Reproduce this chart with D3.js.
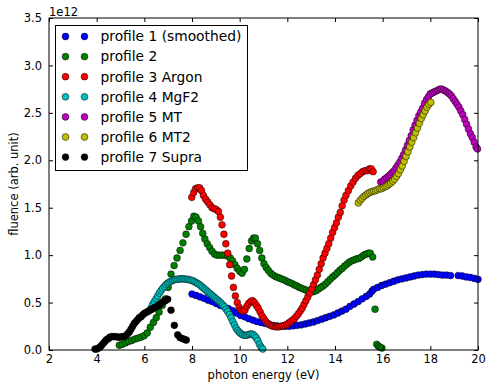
<!DOCTYPE html>
<html>
<head>
    <meta charset="utf-8">
    <title>Fluence per photon energy</title>
    <style>
        body { margin: 0; background: #fff; }
        text { font-family: 'DejaVu Sans', sans-serif; fill: #000; }
        .tick text { font-size: 11.5px; }
        .legend text { font-size: 13.8px; }
    </style>
</head>
<body>
<div id="chart"></div>
<script src="https://cdn.jsdelivr.net/npm/d3@7"></script>
<script>
    (function(d3) {
        'use strict';
        // [photon energy (eV), fluence (1e12 arb. unit)]
        var profile1 = [
            [8.00,.59],[8.17,.575],[8.34,.56],[8.51,.545],[8.68,.525],[8.85,.51],[9.02,.49],[9.19,.47],
            [9.36,.455],[9.53,.435],[9.70,.415],[9.87,.39],[10.04,.365],[10.21,.35],[10.38,.33],[10.55,.315],
            [10.72,.30],[10.89,.29],[11.06,.28],[11.23,.27],[11.40,.26],[11.57,.255],[11.74,.25],[11.91,.25],
            [12.08,.25],[12.25,.255],[12.42,.26],[12.59,.265],[12.76,.275],[12.93,.285],[13.10,.295],[13.27,.31],
            [13.44,.325],[13.61,.34],[13.78,.355],[13.95,.37],[14.12,.39],[14.29,.41],[14.46,.43],[14.63,.46],
            [14.80,.485],[14.97,.51],[15.14,.54],[15.31,.565],[15.45,.59],[15.55,.62],[15.62,.64],[15.79,.66],
            [15.96,.68],[16.13,.695],[16.30,.71],[16.47,.725],[16.64,.74],[16.81,.75],[16.98,.76],[17.15,.77],
            [17.32,.78],[17.49,.79],[17.66,.795],[17.83,.80],[18.00,.80],[18.17,.80],[18.34,.795],[18.51,.79],
            [18.68,.79],[18.85,.785],[19.17,.785],[19.34,.78],[19.51,.77],[19.68,.765],[19.85,.755],[20.00,.745]
        ];
        var profile2 = [
            [4.95,.05],[5.08,.06],[5.21,.075],[5.34,.09],[5.47,.10],[5.60,.115],[5.73,.125],[5.86,.135],
            [5.99,.15],[6.12,.18],[6.25,.24],[6.38,.29],[6.50,.34],[6.62,.40],[6.75,.47],[6.88,.54],
            [7.00,.66],[7.12,.80],[7.25,.89],[7.37,.97],[7.50,1.05],[7.62,1.13],[7.75,1.22],[7.87,1.30],
            [7.98,1.36],[8.08,1.41],[8.17,1.40],[8.27,1.36],[8.36,1.30],[8.45,1.23],[8.54,1.17],[8.64,1.12],
            [8.74,1.08],[8.84,1.04],[8.95,1.01],[9.06,1.00],[9.17,1.00],[9.28,1.00],[9.39,1.00],[9.50,.99],
            [9.60,.97],[9.70,.94],[9.80,.90],[9.90,.86],[10.00,.83],[10.10,.81],[10.20,.85],[10.30,.96],
            [10.40,1.07],[10.50,1.15],[10.58,1.18],[10.66,1.18],[10.75,1.12],[10.84,1.05],[10.93,.97],[11.02,.91],
            [11.11,.87],[11.20,.84],[11.30,.81],[11.40,.79],[11.50,.775],[11.60,.765],[11.70,.755],[11.80,.745],
            [11.90,.735],[12.00,.72],[12.10,.71],[12.20,.70],[12.30,.685],[12.40,.675],[12.50,.66],[12.60,.65],
            [12.70,.64],[12.80,.63],[12.90,.62],[13.00,.615],[13.10,.615],[13.20,.625],[13.30,.64],[13.40,.66],
            [13.50,.675],[13.60,.695],[13.70,.72],[13.80,.745],[13.90,.77],[14.00,.79],[14.10,.815],[14.20,.84],
            [14.30,.86],[14.40,.885],[14.50,.905],[14.60,.925],[14.70,.94],[14.80,.95],[14.90,.96],[15.00,.965],
            [15.10,.98],[15.20,1.00],[15.30,1.01],[15.40,1.02],[15.48,1.02],[15.58,.98],[15.68,.43],[15.75,.06],
            [15.82,.04],[15.89,.03],[15.97,.02]
        ];
        var profile3 = [
            [7.99,1.61],[8.07,1.66],[8.15,1.70],[8.24,1.71],[8.32,1.71],[8.40,1.68],[8.48,1.63],[8.57,1.59],
            [8.66,1.56],[8.75,1.53],[8.84,1.50],[8.93,1.49],[9.02,1.48],[9.11,1.46],[9.19,1.40],[9.26,1.32],
            [9.34,1.22],[9.42,1.12],[9.50,1.02],[9.58,.90],[9.66,.78],[9.74,.66],[9.82,.57],[9.90,.50],
            [9.98,.45],[10.06,.42],[10.14,.41],[10.22,.42],[10.30,.46],[10.38,.49],[10.46,.51],[10.54,.52],
            [10.62,.50],[10.70,.47],[10.78,.44],[10.86,.40],[10.94,.36],[11.02,.33],[11.10,.30],[11.18,.28],
            [11.26,.265],[11.34,.255],[11.42,.25],[11.50,.245],[11.58,.245],[11.66,.245],[11.74,.25],[11.82,.255],
            [11.90,.26],[11.98,.27],[12.06,.285],[12.14,.30],[12.22,.315],[12.30,.33],[12.38,.355],[12.46,.38],
            [12.54,.41],[12.62,.44],[12.70,.48],[12.78,.52],[12.86,.56],[12.94,.60],[13.02,.645],[13.10,.69],
            [13.18,.74],[13.26,.79],[13.34,.85],[13.42,.91],[13.50,.97],[13.58,1.02],[13.66,1.07],[13.74,1.12],
            [13.82,1.18],[13.90,1.24],[13.98,1.29],[14.06,1.34],[14.14,1.40],[14.22,1.45],[14.30,1.52],[14.38,1.58],
            [14.46,1.63],[14.56,1.68],[14.66,1.73],[14.76,1.77],[14.86,1.81],[14.96,1.84],[15.06,1.86],[15.16,1.88],
            [15.26,1.89],[15.36,1.89],[15.44,1.91],[15.52,1.91],[15.60,1.88]
        ];
        var profile4 = [
            [6.28,.44],[6.35,.48],[6.42,.51],[6.49,.54],[6.56,.57],[6.63,.60],[6.70,.625],[6.77,.65],
            [6.84,.67],[6.91,.69],[6.98,.705],[7.05,.715],[7.12,.725],[7.19,.735],[7.26,.74],[7.33,.745],
            [7.40,.745],[7.47,.75],[7.54,.75],[7.61,.75],[7.68,.75],[7.75,.745],[7.82,.745],[7.89,.74],
            [7.96,.735],[8.03,.73],[8.10,.72],[8.17,.71],[8.24,.70],[8.31,.69],[8.38,.675],[8.45,.66],
            [8.52,.645],[8.59,.63],[8.66,.615],[8.73,.60],[8.80,.585],[8.87,.57],[8.94,.555],[9.01,.54],
            [9.08,.525],[9.15,.51],[9.22,.495],[9.29,.475],[9.36,.455],[9.43,.43],[9.50,.405],[9.57,.375],
            [9.64,.34],[9.71,.30],[9.78,.265],[9.85,.23],[9.92,.205],[9.99,.185],[10.06,.17],[10.13,.16],
            [10.20,.155],[10.27,.155],[10.34,.16],[10.41,.165],[10.48,.17],[10.55,.165],[10.62,.15],[10.69,.13],
            [10.76,.10],[10.83,.06],[10.90,.03],[10.97,.01]
        ];
        var profile5 = [
            [15.92,1.77],[16.00,1.78],[16.08,1.80],[16.16,1.815],[16.24,1.83],[16.32,1.85],[16.40,1.87],[16.48,1.89],
            [16.56,1.92],[16.64,1.95],[16.72,1.98],[16.80,2.02],[16.88,2.06],[16.96,2.11],[17.04,2.16],[17.12,2.21],
            [17.20,2.26],[17.28,2.32],[17.36,2.37],[17.44,2.42],[17.52,2.47],[17.60,2.51],[17.68,2.55],[17.76,2.60],
            [17.84,2.64],[17.92,2.67],[18.00,2.70],[18.08,2.71],[18.16,2.72],[18.24,2.73],[18.32,2.74],[18.40,2.75],
            [18.48,2.75],[18.56,2.74],[18.64,2.73],[18.72,2.715],[18.80,2.70],[18.88,2.68],[18.96,2.65],[19.04,2.62],
            [19.12,2.59],[19.20,2.56],[19.28,2.52],[19.36,2.48],[19.44,2.43],[19.52,2.38],[19.60,2.33],[19.68,2.28],
            [19.76,2.24],[19.84,2.19],[19.92,2.14],[19.98,2.12]
        ];
        var profile6 = [
            [14.98,1.55],[15.06,1.58],[15.14,1.60],[15.22,1.62],[15.30,1.635],[15.38,1.65],[15.46,1.66],[15.54,1.67],
            [15.62,1.675],[15.70,1.68],[15.78,1.69],[15.86,1.70],[15.94,1.70],[16.02,1.71],[16.10,1.72],[16.18,1.73],
            [16.26,1.745],[16.34,1.76],[16.42,1.78],[16.50,1.80],[16.58,1.83],[16.66,1.86],[16.74,1.90],[16.82,1.94],
            [16.90,1.99],[16.98,2.04],[17.06,2.09],[17.14,2.14],[17.22,2.19],[17.30,2.24],[17.38,2.29],[17.46,2.34],
            [17.54,2.39],[17.62,2.44],[17.70,2.48],[17.78,2.52],[17.86,2.56],[17.94,2.59],[18.02,2.61]
        ];
        var profile7 = [
            [3.93,.01],[4.00,.01],[4.07,.02],[4.14,.03],[4.21,.05],[4.28,.07],[4.35,.09],[4.42,.11],
            [4.49,.12],[4.56,.135],[4.63,.14],[4.72,.14],[4.81,.14],[4.90,.135],[4.98,.135],[5.06,.14],
            [5.14,.14],[5.22,.15],[5.30,.17],[5.37,.19],[5.44,.22],[5.51,.25],[5.58,.28],[5.65,.30],
            [5.72,.32],[5.79,.34],[5.86,.35],[5.93,.37],[6.00,.385],[6.07,.395],[6.14,.405],[6.21,.415],
            [6.28,.425],[6.35,.435],[6.42,.445],[6.49,.455],[6.56,.465],[6.63,.475],[6.70,.49],[6.77,.505],
            [6.84,.515],[6.91,.525],[6.98,.535],[7.12,.42],[7.26,.26],[7.40,.16],[7.50,.13],[7.60,.12],
            [7.70,.11],[7.76,.105]
        ];

        var labels = ['profile 1 (smoothed)', 'profile 2', 'profile 3 Argon', 'profile 4 MgF2',
            'profile 5 MT', 'profile 6 MT2', 'profile 7 Supra'];
        var colors = ['#0000ff', '#008000', '#ff0000', '#00bfbf', '#bf00bf', '#bfbf00', '#000000'];
        var xTicks = [2, 4, 6, 8, 10, 12, 14, 16, 18, 20];
        var yTicks = [0.0, 0.5, 1.0, 1.5, 2.0, 2.5, 3.0, 3.5];
        var series = [profile1, profile2, profile3, profile4, profile5, profile6, profile7];

        var width = 486;
        var height = 390;
        var margin = { top: 18, right: 8, bottom: 40, left: 49 };
        var w = width - margin.left - margin.right;
        var h = height - margin.top - margin.bottom;
        var r = 3.4;

        var x = d3.scaleLinear().domain([2, 20]).range([0, w]);
        var y = d3.scaleLinear().domain([0, 3.5]).range([h, 0]);

        var svg = d3.select('#chart')
            .append('svg')
            .attr('width', width)
            .attr('height', height)
            .append('g')
            .attr('transform', 'translate(' + margin.left + ',' + margin.top + ')');

        // points, drawn in series order like matplotlib
        series.forEach(function(data, i) {
            svg.append('g')
                .selectAll('circle')
                .data(data)
                .enter()
                .append('circle')
                .attr('cx', function(d) { return x(d[0]); })
                .attr('cy', function(d) { return y(d[1]); })
                .attr('r', r)
                .attr('fill', colors[i])
                .attr('stroke', '#000')
                .attr('stroke-width', 0.5);
        });

        // axes, ticks pointing inwards on all four sides
        var fmtY = d3.format('.1f');
        svg.append('g')
            .attr('transform', 'translate(0,' + h + ')')
            .call(d3.axisBottom(x).tickValues(xTicks).tickSizeInner(-4).tickSizeOuter(0).tickPadding(5).tickFormat(d3.format('d')));
        svg.append('g')
            .call(d3.axisTop(x).tickValues(xTicks).tickSizeInner(-4).tickSizeOuter(0).tickFormat(''));
        svg.append('g')
            .call(d3.axisLeft(y).tickValues(yTicks).tickSizeInner(-4).tickSizeOuter(0).tickPadding(7).tickFormat(fmtY));
        svg.append('g')
            .attr('transform', 'translate(' + w + ',0)')
            .call(d3.axisRight(y).tickValues(yTicks).tickSizeInner(-4).tickSizeOuter(0).tickFormat(''));
        svg.selectAll('.domain').remove();
        svg.selectAll('.tick line').attr('stroke', '#000');

        svg.append('rect')
            .attr('x', 0)
            .attr('y', 0)
            .attr('width', w)
            .attr('height', h)
            .attr('fill', 'none')
            .attr('stroke', '#000')
            .attr('stroke-width', 1);

        svg.append('text')
            .attr('x', 0)
            .attr('y', -2)
            .style('font-size', '11.5px')
            .text('1e12');

        svg.append('text')
            .attr('x', w / 2)
            .attr('y', h + 29)
            .attr('text-anchor', 'middle')
            .style('font-size', '11.5px')
            .text('photon energy (eV)');

        svg.append('text')
            .attr('transform', 'translate(' + (-31) + ',' + (h / 2) + ') rotate(-90)')
            .attr('text-anchor', 'middle')
            .style('font-size', '11.5px')
            .text('fluence (arb. unit)');

        // legend box, top left
        var legend = svg.append('g')
            .attr('class', 'legend')
            .attr('transform', 'translate(6.5,7.5)');
        legend.append('rect')
            .attr('width', 192)
            .attr('height', 145)
            .attr('fill', '#fff')
            .attr('stroke', '#000')
            .attr('stroke-width', 1);
        var item = legend.selectAll('.item')
            .data(labels)
            .enter()
            .append('g')
            .attr('class', 'item')
            .attr('transform', function(d, i) {
                return 'translate(0,' + (11 + i * 20.1) + ')';
            });
        [10, 29].forEach(function(cx) {
            item.append('circle')
                .attr('cx', cx)
                .attr('cy', 0)
                .attr('r', r)
                .attr('fill', function(d, i) { return colors[i]; })
                .attr('stroke', '#000')
                .attr('stroke-width', 0.5);
        });
        item.append('text')
            .attr('x', 45)
            .attr('y', 0)
            .attr('dy', '0.35em')
            .text(function(d) { return d; });
    })(window.d3);
</script>
</body>
</html>
